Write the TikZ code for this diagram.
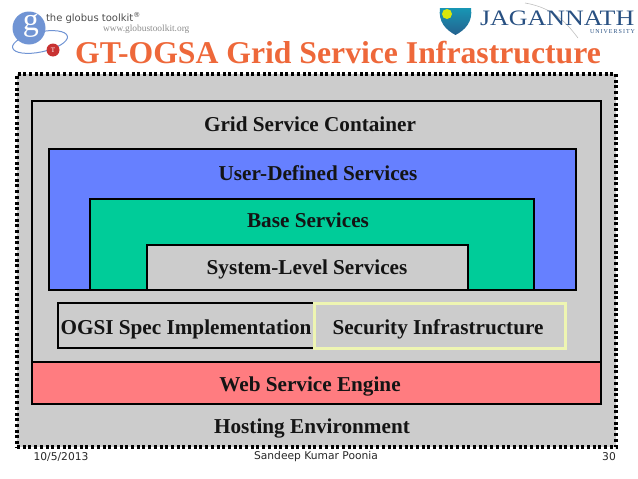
\documentclass[tikz,border=0pt]{standalone}
\usepackage{fontspec}
\setmainfont{Liberation Serif}
\setsansfont{DejaVu Sans}
\usetikzlibrary{positioning}

\definecolor{hostgray}{RGB}{204,204,204}
\definecolor{userblue}{RGB}{102,128,255}
\definecolor{basegreen}{RGB}{0,204,153}
\definecolor{enginered}{RGB}{255,124,128}
\definecolor{secyellow}{RGB}{238,245,178}
\definecolor{titleorange}{RGB}{238,104,58}
\definecolor{globusblue}{RGB}{112,148,212}
\definecolor{globusred}{RGB}{200,50,50}
\definecolor{jubl}{RGB}{40,80,130}

\begin{document}
\begin{tikzpicture}[
    x=1pt, y=-1pt,
    every node/.style={inner sep=0pt, outer sep=0pt},
    layer/.style={
        rectangle, draw=black, line width=2pt,
        anchor=north west, fill=hostgray
    },
    lbl/.style={font=\fontsize{21.2}{24}\selectfont\bfseries, text=black!92},
    foot/.style={font=\fontsize{10.7}{12}\selectfont\sffamily, text=black!85},
    tinyweb/.style={font=\fontsize{9.4}{10}\selectfont, text=black!45}
]
\useasboundingbox (0,0) rectangle (638,479);

%% -- Logos
\draw[globusblue, line width=1pt, rotate around={12:(40,42)}] (40,42) ellipse (28 and 10);
\node[circle, fill=globusblue, minimum size=33pt] (globe) at (29,28) {};
\node[font=\fontsize{32}{32}\selectfont, text=white] (gee) at (31,26) {g};
\node[circle, fill=globusred, minimum size=13pt, font=\fontsize{7}{7}\selectfont, text=white] (tee) at (53,50) {T};
\node[anchor=west, font=\fontsize{10}{12}\selectfont\sffamily, text=black!70] (toolkit) at (46,18) {the globus toolkit\textsuperscript{®}};
\node[anchor=west, tinyweb] (web) at (103,29) {www.globustoolkit.org};
\shade[top color=jubl!60!cyan, bottom color=jubl!90!cyan] (440,8) -- (471,8) .. controls (473,22) and (465,30) .. (455.5,35) .. controls (446,30) and (438,22) .. (440,8) -- cycle;
\fill[yellow!85!green] (447,14) circle (5);
\draw[gray!50, line width=0.6pt] (525,3) .. controls (555,8) and (568,25) .. (578,38);
\node[anchor=west, font=\fontsize{22}{22}\selectfont, text=jubl, xscale=1.18] (jagan) at (480,18) {JAGANNATH};
\node[anchor=east, font=\fontsize{6}{6}\selectfont, text=jubl] (univ) at (635,32) {U\,N\,I\,V\,E\,R\,S\,I\,T\,Y};

%% -- Title
\node[font=\fontsize{31.7}{34}\selectfont\bfseries, text=titleorange] (title) at (338,53) {GT-OGSA Grid Service Infrastructure};

%% -- Hosting environment
\node[rectangle, fill=hostgray, draw=black, line width=3.2pt, dash pattern=on 3pt off 2.7pt,
      anchor=north west, minimum width=599pt, minimum height=373pt] (host) at (17,74) {};
\node[layer, minimum width=569pt, minimum height=303pt] (container) at (32,101) {};

%% -- Service layers
\node[layer, fill=userblue, minimum width=527pt, minimum height=141pt] (user) at (49,149) {};
\node[layer, fill=basegreen, minimum width=444pt, minimum height=91pt] (base) at (90,199) {};
\node[layer, minimum width=321pt, minimum height=45pt] (system) at (147,245) {};
\node[layer, minimum width=256pt, minimum height=45pt] (ogsi) at (58,303) {};
\node[layer, draw=secyellow, line width=3pt, minimum width=251pt, minimum height=45pt] (security) at (314,303) {};
\node[layer, fill=enginered, minimum width=569pt, minimum height=42pt] (engine) at (32,362) {};

%% -- Layer labels
\node[lbl] (lcontainer) at (310,124) {Grid Service Container};
\node[lbl] (luser) at (318,173) {User-Defined Services};
\node[lbl] (lbase) at (308,220) {Base Services};
\node[lbl] (lsystem) at (307,269) {System-Level Services};
\node[lbl] (logsi) at (186,329) {OGSI Spec Implementation};
\node[lbl] (lsecurity) at (438,329) {Security Infrastructure};
\node[lbl] (lengine) at (310,386) {Web Service Engine};
\node[lbl] (lhost) at (312,428) {Hosting Environment};

%% -- Footer
\node[foot] (date) at (61,457) {10/5/2013};
\node[foot] (author) at (316,457) {Sandeep Kumar Poonia};
\node[foot] (page) at (609,457) {30};

\end{tikzpicture}
\end{document}
